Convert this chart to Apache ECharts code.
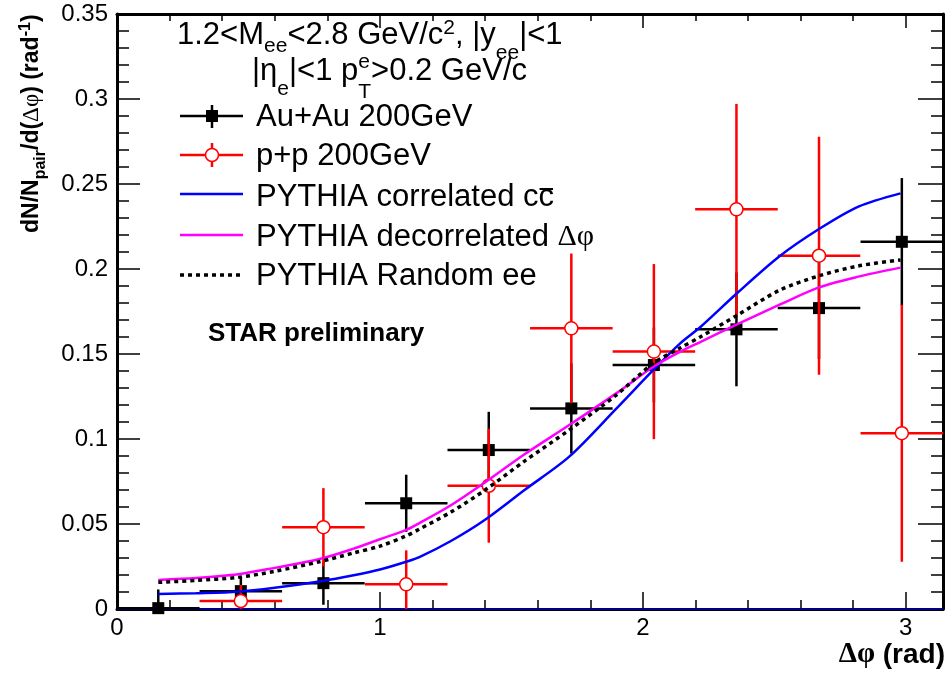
<!DOCTYPE html>
<html>
<head>
<meta charset="utf-8">
<script src="https://cdn.jsdelivr.net/npm/echarts@6/dist/echarts.min.js"></script>
<style>
  html, body { margin: 0; padding: 0; background: #fff; }
  #chart { width: 946px; height: 673px; }
</style>
</head>
<body>
<div id="chart"></div>
<script>
// Delta-phi bins (rad): centres and half width
const binCenters = [0.157, 0.471, 0.785, 1.100, 1.414, 1.728, 2.042, 2.356, 2.670, 2.985];
const binHalfWidth = 0.157;

// Au+Au 200 GeV
const auauYield = [0.0005, 0.0105, 0.0152, 0.0622, 0.0935, 0.1180, 0.1435, 0.1645, 0.1770, 0.2160];
const auauError = [0.0110, 0.0085, 0.0127, 0.0168, 0.0225, 0.0265, 0.0220, 0.0335, 0.0300, 0.0375];

// p+p 200 GeV (first bin empty)
const ppYield = [null, 0.0047, 0.0481, 0.0145, 0.0725, 0.1651, 0.1514, 0.2351, 0.2078, 0.1034];
const ppError = [null, 0.0094, 0.0230, 0.0200, 0.0335, 0.0440, 0.0515, 0.0620, 0.0700, 0.0756];

// PYTHIA curves sampled along delta-phi
const pythiaX = [0.157, 0.30, 0.46, 0.60, 0.77, 0.90, 1.00, 1.10, 1.15, 1.27, 1.40, 1.55, 1.72, 1.90, 2.04, 2.14, 2.22, 2.36, 2.52, 2.67, 2.82, 2.98];
const pythiaCorrelated = [0.0088, 0.0093, 0.0102, 0.0125, 0.0162, 0.0198, 0.0232, 0.0278, 0.0305, 0.0400, 0.0525, 0.0700, 0.0896, 0.1180, 0.1406, 0.1560, 0.1660, 0.1860, 0.2075, 0.2235, 0.2367, 0.2445];
const pythiaDecorrelated = [0.0171, 0.0182, 0.0204, 0.0242, 0.0294, 0.0355, 0.0410, 0.0465, 0.0505, 0.0610, 0.0745, 0.0910, 0.1082, 0.1270, 0.1425, 0.1512, 0.1572, 0.1676, 0.1790, 0.1892, 0.1955, 0.2008];
const pythiaRandom = [0.0157, 0.0168, 0.0186, 0.0222, 0.0278, 0.0330, 0.0370, 0.0430, 0.0470, 0.0570, 0.0700, 0.0870, 0.1053, 0.1260, 0.1445, 0.1534, 0.1602, 0.1729, 0.1875, 0.1960, 0.2018, 0.2053];

// Zero reference line
const zeroLineX = [0, 3.1416];
const zeroLineY = [0, 0];

// Axis ticks
const xMajorStep = 1, xMinorStep = 0.2;
const yMajorStep = 0.05;

const SANS = '"Liberation Sans", Arial, sans-serif';
const SERIF = '"Liberation Serif", "Times New Roman", serif';

const mctx = document.createElement('canvas').getContext('2d');
function fontOf(s) { return (s.w || 'normal') + ' ' + s.size + 'px ' + (s.fam || SANS); }
function widthOf(s) { mctx.font = fontOf(s); return mctx.measureText(s.t).width; }
function textEl(s, x, base) {
  return {
    type: 'text', x: x, y: base + (s.dy || 0) - 0.35 * s.size, silent: true,
    style: { text: s.t, font: fontOf(s), fill: '#000', align: 'left', verticalAlign: 'middle',
             textAlign: 'left', textVerticalAlign: 'middle' }
  };
}
// lay a run of text pieces (with sub/superscripts) left to right from x0 on a baseline
function layoutRun(segs, x0, base) {
  const out = []; let x = x0;
  segs.forEach(s => {
    if (s.stack) {
      let w = 0;
      s.stack.forEach(p => { out.push(textEl(p, x, base)); w = Math.max(w, widthOf(p)); });
      x += w;
    } else {
      out.push(textEl(s, x, base));
      x += widthOf(s);
    }
  });
  return { els: out, end: x };
}
function runWidth(segs) {
  return segs.reduce((a, s) => a + (s.stack ? Math.max.apply(null, s.stack.map(widthOf)) : widthOf(s)), 0);
}

const M = 31, S = 21;
const title1 = layoutRun([
  { t: '1.2<M', size: M }, { t: 'ee', size: S, dy: 8 }, { t: '<2.8 GeV/c', size: M },
  { t: '2', size: S, dy: -10 }, { t: ', |y', size: M }, { t: 'ee', size: S, dy: 15 }, { t: '|<1', size: M }
], 177, 46);
const title2 = layoutRun([
  { t: '|\u03B7', size: M }, { t: 'e', size: S, dy: 15 }, { t: '|<1 p', size: M },
  { stack: [{ t: 'e', size: S, dy: -12 }, { t: 'T', size: S, dy: 18 }] }, { t: '>0.2 GeV/c', size: M }
], 252, 82);

const L = 31;
const legendX = 256;
const leg1 = layoutRun([{ t: 'Au+Au 200GeV', size: L }], legendX, 128);
const leg2 = layoutRun([{ t: 'p+p 200GeV', size: L }], legendX, 167);
const leg3 = layoutRun([{ t: 'PYTHIA correlated cc', size: L }], legendX, 208);
const leg4 = layoutRun([{ t: 'PYTHIA decorrelated ', size: L }, { t: '\u0394\u03C6', size: 30, fam: SERIF }], legendX, 248);
const leg5 = layoutRun([{ t: 'PYTHIA Random ee', size: L }], legendX, 287);
const ccStart = legendX + widthOf({ t: 'PYTHIA correlated c', size: L });
const ccEnd = legendX + widthOf({ t: 'PYTHIA correlated cc', size: L });

const star = layoutRun([{ t: 'STAR preliminary', size: 26, w: 'bold' }], 208, 343);

const yTitleSegs = [
  { t: 'dN/N', size: 23, w: 'bold' }, { t: 'pair', size: 16, w: 'bold', dy: 6 },
  { t: '/d(', size: 23, w: 'bold' }, { t: '\u0394\u03C6', size: 23, fam: SERIF },
  { t: ') (rad', size: 23, w: 'bold' }, { t: '-1', size: 16, w: 'bold', dy: -9 }, { t: ')', size: 23, w: 'bold' }
];
const yTitle = layoutRun(yTitleSegs, 0, 0);

const xTitleSegs = [{ t: '\u0394\u03C6', size: 29, fam: SERIF, w: 'bold' }, { t: ' (rad)', size: 28, w: 'bold' }];
const xTitle = layoutRun(xTitleSegs, 945 - runWidth(xTitleSegs), 665);

function line(x1, y1, x2, y2, style) {
  return { type: 'line', silent: true, shape: { x1, y1, x2, y2 }, style };
}
const legendMarks = [
  line(180, 116, 243, 116, { stroke: '#000', lineWidth: 2.5 }),
  line(212, 105, 212, 128, { stroke: '#000', lineWidth: 2.5 }),
  { type: 'rect', silent: true, shape: { x: 206, y: 110, width: 12, height: 12 }, style: { fill: '#000' } },
  line(180, 155, 243, 155, { stroke: '#ff0000', lineWidth: 2.5 }),
  line(212, 143, 212, 167, { stroke: '#ff0000', lineWidth: 2.5 }),
  { type: 'circle', silent: true, shape: { cx: 212, cy: 155, r: 6.5 }, style: { fill: '#fff', stroke: '#ff0000', lineWidth: 1.5 } },
  line(180, 194, 243, 194, { stroke: '#0000ff', lineWidth: 2.5 }),
  line(180, 235, 243, 235, { stroke: '#ff00ff', lineWidth: 2.5 }),
  line(180, 275, 243, 275, { stroke: '#000', lineWidth: 3.5, lineDash: [4, 4] }),
  line(ccStart + 1, 189, ccEnd - 1, 189, { stroke: '#000', lineWidth: 2 })
];

// error-bar points: [x, y, halfWidth, error]
const auauData = binCenters.map((x, i) => [x, auauYield[i], binHalfWidth, auauError[i]]);
const ppData = binCenters.map((x, i) => [x, ppYield[i], binHalfWidth, ppError[i]]).filter(d => d[1] !== null);

function errorBars(color, marker) {
  return function (params, api) {
    const x = api.value(0), y = api.value(1), hw = api.value(2), e = api.value(3);
    const l = api.coord([x - hw, y]), r = api.coord([x + hw, y]);
    const hi = api.coord([x, y + e]), lo = api.coord([x, y - e]);
    const floorY = api.coord([x, 0])[1];
    const c = api.coord([x, y]);
    const st = { stroke: color, lineWidth: 2.5 };
    const kids = [
      { type: 'line', shape: { x1: l[0], y1: l[1], x2: r[0], y2: r[1] }, style: st },
      { type: 'line', shape: { x1: c[0], y1: Math.min(lo[1], floorY), x2: c[0], y2: hi[1] }, style: st }
    ];
    if (marker === 'square') {
      kids.push({ type: 'rect', shape: { x: c[0] - 6, y: c[1] - 6, width: 12, height: 12 }, style: { fill: color } });
    } else {
      kids.push({ type: 'circle', shape: { cx: c[0], cy: c[1], r: 6.5 }, style: { fill: '#fff', stroke: color, lineWidth: 1.5 } });
    }
    return { type: 'group', children: kids };
  };
}

const frame = { color: '#000', width: 3 };
const tickLine = { color: '#000', width: 1.5 };
const xBase = { type: 'value', min: 0, max: Math.PI, splitLine: { show: false } };
const yBase = { type: 'value', min: 0, max: 0.35, interval: yMajorStep, splitLine: { show: false }, minorSplitLine: { show: false } };

const option = {
  animation: false,
  backgroundColor: '#fff',
  grid: { left: 117, right: 3, top: 14, bottom: 64, containLabel: false, outerBoundsMode: 'none' },
  xAxis: [
    Object.assign({}, xBase, { position: 'bottom', interval: xMajorStep,
      axisLine: { show: true, onZero: false, lineStyle: frame },
      axisTick: { show: true, inside: true, length: 17, lineStyle: tickLine },
      axisLabel: { show: true, margin: 7, fontSize: 24, color: '#000', fontFamily: SANS, showMaxLabel: false, showMinLabel: true,
                   formatter: v => String(Math.round(v)) } }),
    Object.assign({}, xBase, { position: 'bottom', interval: xMinorStep,
      axisLine: { show: false, onZero: false }, axisTick: { show: true, inside: true, length: 9, lineStyle: tickLine }, axisLabel: { show: false } }),
    Object.assign({}, xBase, { position: 'top', interval: xMajorStep,
      axisLine: { show: true, onZero: false, lineStyle: frame }, axisTick: { show: true, inside: true, length: 14, lineStyle: tickLine }, axisLabel: { show: false } }),
    Object.assign({}, xBase, { position: 'top', interval: xMinorStep,
      axisLine: { show: false, onZero: false }, axisTick: { show: true, inside: true, length: 7, lineStyle: tickLine }, axisLabel: { show: false } })
  ],
  yAxis: [
    Object.assign({}, yBase, { position: 'left',
      axisLine: { show: true, onZero: false, lineStyle: frame },
      axisTick: { show: true, inside: true, length: 23, lineStyle: tickLine },
      minorTick: { show: true, splitNumber: 5, length: 12, lineStyle: tickLine },
      axisLabel: { show: true, margin: 9, fontSize: 24, color: '#000', fontFamily: SANS } }),
    Object.assign({}, yBase, { position: 'right',
      axisLine: { show: true, onZero: false, lineStyle: frame },
      axisTick: { show: true, inside: true, length: 25, lineStyle: tickLine },
      minorTick: { show: true, splitNumber: 5, length: 12, lineStyle: tickLine },
      axisLabel: { show: false } })
  ],
  series: [
    { type: 'line', xAxisIndex: 0, yAxisIndex: 0, z: 2, symbol: 'none', silent: true,
      data: zeroLineX.map((x, i) => [x, zeroLineY[i]]), lineStyle: { color: '#00008b', width: 2 } },
    { type: 'custom', name: 'Au+Au 200GeV', xAxisIndex: 0, yAxisIndex: 0, z: 3, data: auauData, renderItem: errorBars('#000000', 'square') },
    { type: 'custom', name: 'p+p 200GeV', xAxisIndex: 0, yAxisIndex: 0, z: 4, data: ppData, renderItem: errorBars('#ff0000', 'circle') },
    { type: 'line', name: 'PYTHIA correlated', xAxisIndex: 0, yAxisIndex: 0, z: 5, symbol: 'none', smooth: 0.3,
      data: pythiaX.map((x, i) => [x, pythiaCorrelated[i]]), lineStyle: { color: '#0000ff', width: 2.5 } },
    { type: 'line', name: 'PYTHIA decorrelated', xAxisIndex: 0, yAxisIndex: 0, z: 6, symbol: 'none', smooth: 0.3,
      data: pythiaX.map((x, i) => [x, pythiaDecorrelated[i]]), lineStyle: { color: '#ff00ff', width: 2.5 } },
    { type: 'line', name: 'PYTHIA Random ee', xAxisIndex: 0, yAxisIndex: 0, z: 7, symbol: 'none', smooth: 0.3,
      data: pythiaX.map((x, i) => [x, pythiaRandom[i]]), lineStyle: { color: '#000', width: 3.5, type: [4, 4] } }
  ],
  graphic: [
    { type: 'group', children: title1.els.concat(title2.els) },
    { type: 'group', children: leg1.els.concat(leg2.els, leg3.els, leg4.els, leg5.els, legendMarks) },
    { type: 'group', children: star.els },
    { type: 'group', x: 40, y: 233, rotation: Math.PI / 2, children: yTitle.els },
    { type: 'group', children: xTitle.els }
  ]
};

const chart = echarts.init(document.getElementById('chart'), null, { renderer: 'canvas' });
chart.setOption(option);
</script>
</body>
</html>
